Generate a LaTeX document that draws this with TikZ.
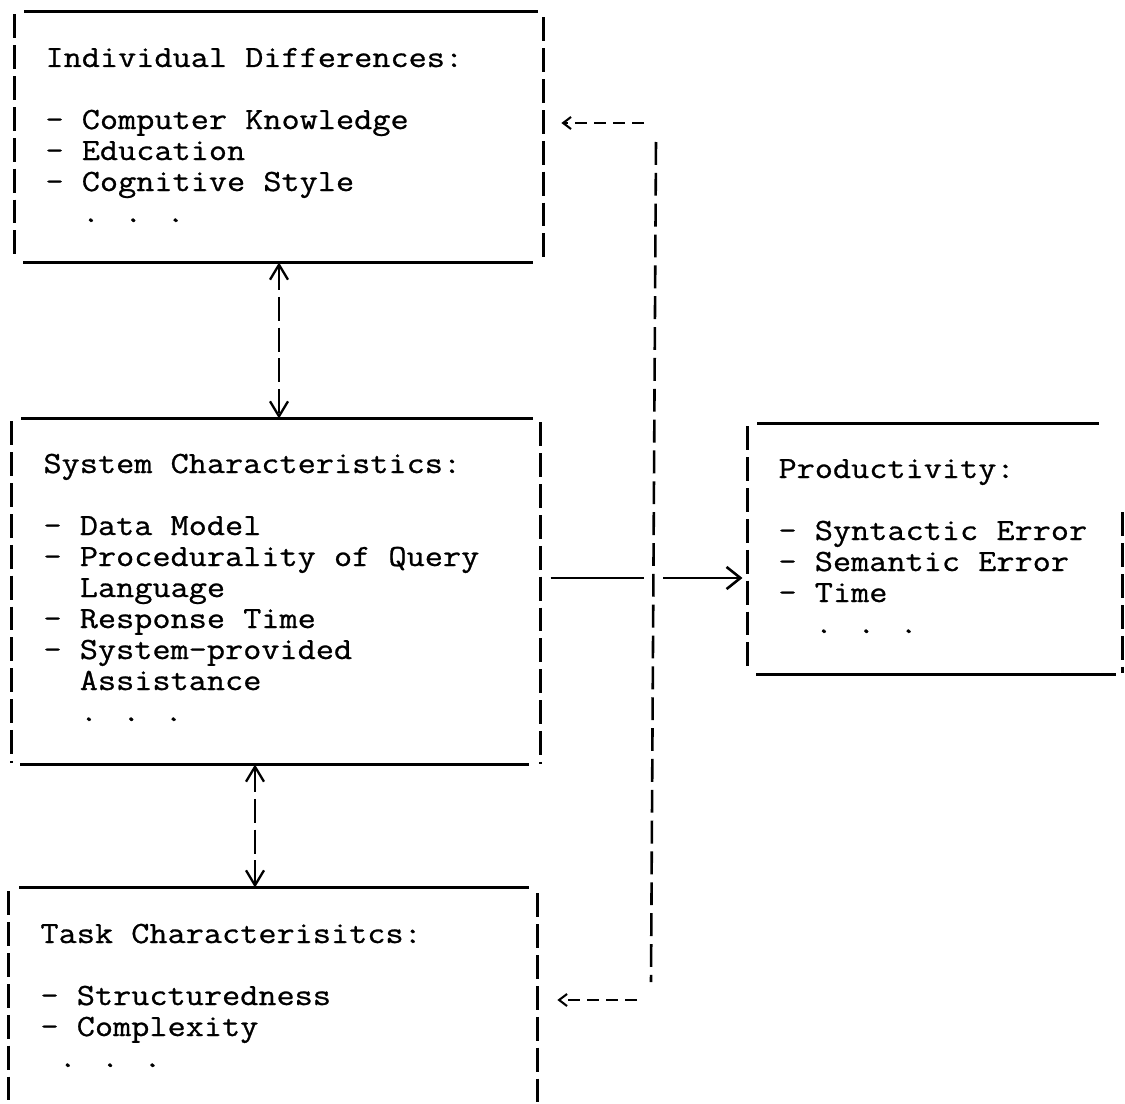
\documentclass[tikz,border=0pt]{standalone}
\usepackage{fontspec}
\newfontfamily\twfont[FakeBold=0.8,FakeStretch=1.143]{Latin Modern Mono}
\usetikzlibrary{arrows.meta,calc,fit}
% typewriter face: 10 characters per inch, 6 lines per inch
\newcommand\twsize{\twfont\fontsize{12}{12.06}\selectfont}
\tikzset{
  region/.style={inner sep=0pt, draw=none},
  rule/.style={line width=1pt},
  pipes/.style={line width=1pt, dash pattern=on 9.3pt off 2.7pt},
  txt/.style={font=\twsize, inner sep=0pt, anchor=base west},
  link/.style={line width=0.9pt, dash pattern=on 9.3pt off 2.7pt, line join=round,
    {Straight Barb[length=5.8pt,width=7pt]}-{Straight Barb[length=5.8pt,width=7pt]}},
  flowline/.style={line width=1pt},
  flow/.style={line width=1pt, -{Straight Barb[length=5.4pt,width=8.6pt]}},
  fbline/.style={line width=1pt, dash pattern=on 8.9pt off 3.1pt},
  fbarrow/.style={line width=0.8pt, dash pattern=on 4.7pt off 2.7pt,
    -{Straight Barb[length=3.1pt,width=4.7pt,sep=1.9pt]}},
}
\begin{document}
\begin{tikzpicture}[x=0.389pt,y=-0.389pt]
\useasboundingbox (0,0) rectangle (1125,1104);

% box areas
\node[region, fit={(15,12) (543,262)}] (ind) {};
\node[region, fit={(12,419) (540,764)}] (sys) {};
\node[region, fit={(9,888) (537,1104)}] (task) {};
\node[region, fit={(748,424) (1122,674)}] (prod) {};

% Individual Differences box
\draw[rule] ($(ind.north west)+(10,0)$) -- ($(ind.north east)+(-6,0)$);
\draw[rule] ($(ind.south west)+(9,0)$) -- ($(ind.south east)+(-11,0)$);
\draw[pipes] ($(ind.north west)+(0,3)$) -- ($(ind.south west)+(0,-3)$);
\draw[pipes] ($(ind.north east)+(0,6)$) -- ($(ind.south east)+(0,-1)$);
\node[txt] (ind-t) at (45,67) {\begin{tabular}[t]{@{}l@{}}
Individual Differences:\\
\\
- Computer Knowledge\\
- Education\\
- Cognitive Style\\
\phantom{xx}. . .
\end{tabular}};

% System Characteristics box
\draw[rule] ($(sys.north west)+(10,0)$) -- ($(sys.north east)+(-8,0)$);
\draw[rule] ($(sys.south west)+(9,0)$) -- ($(sys.south east)+(-12,0)$);
\draw[pipes] ($(sys.north west)+(0,3)$) -- ($(sys.south west)+(0,-2)$);
\draw[pipes] ($(sys.north east)+(0,4)$) -- ($(sys.south east)+(0,-1)$);
\node[txt] (sys-t) at (43,473) {\begin{tabular}[t]{@{}l@{}}
System Characteristics:\\
\\
- Data Model\\
- Procedurality of Query\\
\phantom{xx}Language\\
- Response Time\\
- System-provided\\
\phantom{xx}Assistance\\
\phantom{xx}. . .
\end{tabular}};

% Task Characterisitcs box (open at the foot)
\draw[rule] ($(task.north west)+(11,0)$) -- ($(task.north east)+(-9,0)$);
\draw[pipes] ($(task.north west)+(0,4)$) -- (task.south west);
\draw[pipes] ($(task.north east)+(0,6)$) -- (task.south east);
\node[txt] (task-t) at (40,943) {\begin{tabular}[t]{@{}l@{}}
Task Characterisitcs:\\
\\
- Structuredness\\
- Complexity\\
\phantom{x}. . .
\end{tabular}};

% Productivity box
\draw[rule] ($(prod.north west)+(10,0)$) -- ($(prod.north east)+(-24,0)$);
\draw[rule] ($(prod.south west)+(9,0)$) -- ($(prod.south east)+(-7,0)$);
\draw[pipes] ($(prod.north west)+(0,3)$) -- ($(prod.south west)+(0,-3)$);
\draw[pipes] ($(prod.north east)+(0,89)$) -- ($(prod.south east)+(0,-2)$);
\node[txt] (prod-t) at (778,478) {\begin{tabular}[t]{@{}l@{}}
Productivity:\\
\\
- Syntactic Error\\
- Semantic Error\\
- Time\\
\phantom{xx}. . .
\end{tabular}};

% two-way links between the stacked boxes
\draw[link] (ind.south) -- (ind.south |- sys.north);
\draw[link] ($(sys.south)+(-21,0)$) -- ($(sys.south |- task.north)+(-21,0)$);

% feedback path from the outcome back to the inputs
\coordinate (fbtop) at (656,142);
\coordinate (fbbot) at (651,982);
\coordinate (fbi) at (644,123);
\coordinate (fbt) at (637,1000);
\draw[fbline] (fbtop) -- (fbbot);
\draw[fbarrow] (fbi) -- ($(ind.east |- fbi)+(13,0)$);
\draw[fbarrow] (fbt) -- ($(task.east |- fbt)+(15,0)$);

% main flow into Productivity, broken where it crosses the feedback line
\coordinate (lv) at (0,578);
\coordinate (gapL) at (644,578);
\coordinate (gapR) at (663,578);
\draw[flowline] ($(sys.east |- lv)+(10,0)$) -- (gapL);
\draw[flow] (gapR) -- ($(prod.west |- lv)+(-5,0)$);
\end{tikzpicture}
\end{document}
